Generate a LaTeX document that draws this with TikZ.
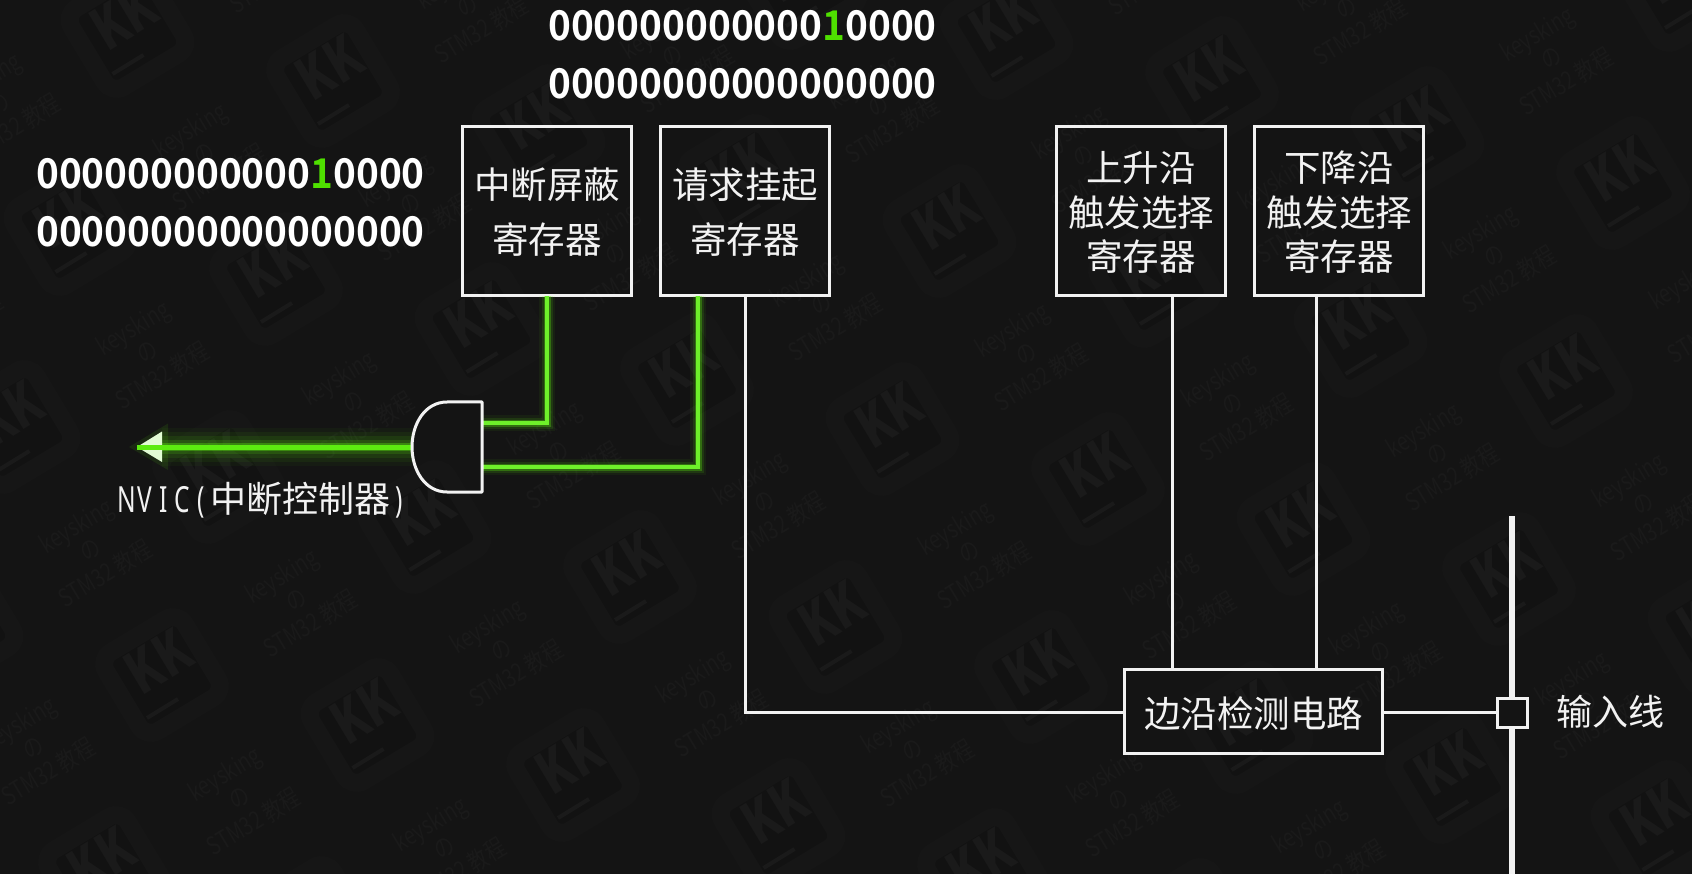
\documentclass[tikz,border=0pt]{standalone}
\usepackage{fontspec}
\usetikzlibrary{calc}
\setmainfont{Noto Sans CJK SC}
\newfontfamily\bitfont[FakeStretch=0.945]{Noto Sans CJK SC Bold}
\newfontfamily\narrowfont[FakeStretch=0.68]{Noto Sans}
\newfontfamily\wmfont[FakeStretch=0.78]{Noto Sans CJK SC}
\definecolor{bgc}{HTML}{141414}
\definecolor{wmdark}{HTML}{121212}
\definecolor{wmband}{HTML}{161616}
\definecolor{wmtext}{HTML}{1A1A1A}
\definecolor{wire}{HTML}{F2F2F2}
\definecolor{neon}{HTML}{6EF02A}
\definecolor{neonb}{HTML}{5CEB10}
\definecolor{onebit}{HTML}{4FE000}
\newcommand{\hw}[1]{\makebox[18.6pt][c]{\narrowfont #1}}
\newcommand{\tstrut}{\rule{0pt}{33pt}}
\tikzset{
  regbox/.style={draw=wire,line width=3pt,minimum width=169pt,minimum height=169pt,inner sep=0pt,text=wire,align=center,font=\fontsize{36.5}{54.5}\selectfont},
  regboxb/.style={regbox,font=\fontsize{36.5}{44.5}\selectfont},
  edgebox/.style={draw=wire,line width=3pt,minimum width=258pt,minimum height=84pt,inner sep=0pt,text=wire,font=\fontsize{36.5}{40}\selectfont},
  pad/.style={draw=wire,line width=3pt,fill=bgc,minimum width=30pt,minimum height=29pt,inner sep=0pt},
  wireline/.style={draw=wire,line width=3pt},
  bus/.style={draw=wire,line width=6pt},
  gate/.style={draw=wire,line width=3pt,line join=round},
  lab/.style={text=wire,inner sep=0pt},
  bits/.style={text=white,inner sep=0pt,font=\bitfont\fontsize{41}{58}\selectfont,align=left},
  glowin/.style={draw=neon,line width=3.6pt,line join=miter,
    preaction={draw=neonb,line width=16pt,opacity=.06},
    preaction={draw=neonb,line width=11pt,opacity=.12},
    preaction={draw=neonb,line width=7pt,opacity=.3}},
  glowout/.style={draw=neonb,line width=5pt,
    preaction={draw=neonb,line width=38pt,opacity=.04},
    preaction={draw=neonb,line width=30pt,opacity=.06},
    preaction={draw=neonb,line width=22pt,opacity=.09},
    preaction={draw=neonb,line width=14pt,opacity=.15},
    preaction={draw=neonb,line width=8pt,opacity=.35}},
  wmbrand/.style={text=wmtext,inner sep=0pt,rotate=31,font=\wmfont\bfseries\fontsize{58}{58}\selectfont},
  wmcap/.style={text=wmtext,inner sep=0pt,rotate=31,align=center,font=\wmfont\fontsize{25}{28}\selectfont},
  wmsquare/.style={draw=wmband,line width=18pt,fill=wmdark,rounded corners=14pt,minimum size=92pt,rotate=31,inner sep=0pt},
}
\begin{document}
\begin{tikzpicture}[x=1pt,y=-1pt]
\fill[bgc] (0,0) rectangle (1692,874);
\useasboundingbox (0,0) rectangle (1692,874);
% watermark lattice
\begin{scope}
\clip (0,0) rectangle (1692,874);
\foreach \i in {-2,...,9}{\foreach \j in {-2,...,6}{
  \pgfmathsetmacro{\px}{158+205.5*\i+57*\j}
  \pgfmathsetmacro{\py}{667+50*\i-198*\j}
  \pgfmathparse{(\px>-230 && \px<1780 && \py>-40 && \py<960) ? 1 : 0}
  \ifnum\pgfmathresult=1\relax
  \begin{scope}[shift={(\px,\py)}]
    \node[wmsquare] (sq\i\j) at (4,8) {};
    \node[wmbrand] (kk\i\j) at (0,-6) {KK};
    \draw[wmtext,line width=4pt] (-11,51) -- (20,32);
    \node[wmcap] (cap\i\j) at (138,-67) {keysking\\の\\STM32 教程};
  \end{scope}
  \fi
}}
\end{scope}
% bit rows
\node[bits,anchor=west] (maskbits) at (36,203) {000000000000\textcolor{onebit}{1}0000\\00000000000000000};
\node[bits,anchor=west] (pendbits) at (548,55) {000000000000\textcolor{onebit}{1}0000\\00000000000000000};
% coordinates for wires
\coordinate (b1out) at (547,296);
\coordinate (b2green) at (698,296);
\coordinate (b3out) at (1172,296);
\coordinate (b4out) at (1316,296);
\coordinate (e3in) at (1172,668);
\coordinate (e4in) at (1316,668);
\coordinate (gin1) at (482,423);
\coordinate (gin2) at (482,467);
\coordinate (gout) at (412,447);
\coordinate (gtr) at (482,402);
\coordinate (gbr) at (482,492);
\coordinate (arrowtip) at (137,447);
\coordinate (arrowbase) at (162,447);
\coordinate (arrowup) at (162,431.5);
\coordinate (arrowdn) at (162,462);
\coordinate (bustop) at (1512,516);
\coordinate (busend) at (1512,874);
% wires
\draw[wireline] (b3out) -- (e3in);
\draw[wireline] (b4out) -- (e4in);
\draw[bus] (bustop) -- (busend);
% boxes
\node[regbox] (mask) at (547,211) {\tstrut 中断屏蔽\\寄存器};
\node[regbox] (pend) at (745,211) {\tstrut 请求挂起\\寄存器};
\node[regboxb] (rise) at (1141,211) {\tstrut 上升沿\\触发选择\\寄存器};
\node[regboxb] (fall) at (1339,211) {\tstrut 下降沿\\触发选择\\寄存器};
\node[edgebox] (edge) at (1253.5,711) {\rule{0pt}{35pt}边沿检测电路};
\node[pad] (input) at (1512,712.5) {};
\node[lab,anchor=west,font=\fontsize{36}{40}\selectfont] (inlab) at (1556,712) {输入线};
\draw[wireline] (pend.south) |- (edge.west |- input.west);
\draw[wireline] (edge.east |- input.west) -- (input.west);
% green signal paths
\draw[glowin] (b1out) |- (gin1);
\draw[glowin] (b2green) |- (gin2);
\fill[neonb,opacity=.10] ($(arrowtip)+(-8,0)$) -- ($(arrowup)+(6,-8)$) -- ($(arrowdn)+(6,8)$) -- cycle;
\draw[glowout] (gout) -- (arrowbase);
\fill[white!80!neon] (arrowtip) -- (arrowup) -- (arrowdn) -- cycle;
\draw[neonb,line width=5pt] (gout) -- (arrowtip);
% AND gate
\draw[gate] (gtr) -- (447,402) .. controls (425,402) and (412,424) .. (gout) .. controls (412,470) and (425,492) .. (447,492) -- (gbr) -- cycle;
% NVIC label
\node[lab,anchor=west,font=\fontsize{36}{40}\selectfont] (nvic) at (117,500) {\hw{N}\hw{V}\hw{I}\hw{C}\hw{(}中断控制器\hw{)}};
\end{tikzpicture}
\end{document}
